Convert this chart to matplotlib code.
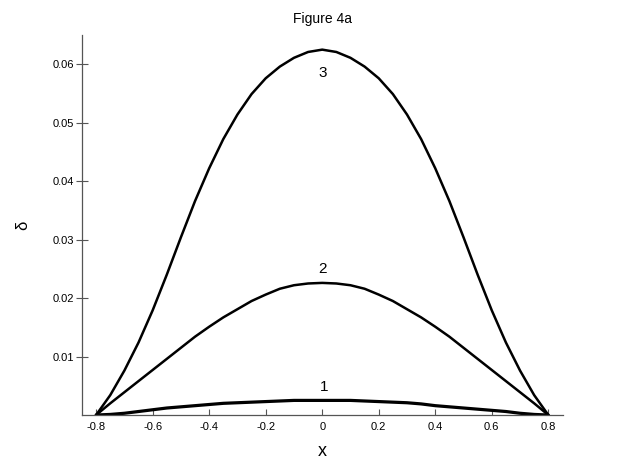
import matplotlib
import matplotlib.pyplot as plt

matplotlib.use("Agg")
plt.rcParams["font.family"] = ["Liberation Sans", "DejaVu Sans"]

# sampled off the reference curves
x_vals = [-0.80, -0.75, -0.70, -0.65, -0.60, -0.55, -0.50, -0.45, -0.40, -0.35, -0.30,
          -0.25, -0.20, -0.15, -0.10, -0.05, 0.00, 0.05, 0.10, 0.15, 0.20, 0.25,
          0.30, 0.35, 0.40, 0.45, 0.50, 0.55, 0.60, 0.65, 0.70, 0.75, 0.80]
delta_1 = [0.0, 0.0001, 0.0003, 0.0006, 0.0009, 0.0012, 0.0014, 0.0016, 0.0018, 0.0020, 0.0021,
           0.0022, 0.0023, 0.0024, 0.0025, 0.0025, 0.0025, 0.0025, 0.0025, 0.0024, 0.0023, 0.0022,
           0.0021, 0.0019, 0.0016, 0.0014, 0.0012, 0.0010, 0.0008, 0.0006, 0.0003, 0.0001, 0.0]
delta_2 = [0.0, 0.0020, 0.0039, 0.0058, 0.0077, 0.0096, 0.0115, 0.0134, 0.0151, 0.0167, 0.0181,
           0.0195, 0.0206, 0.0216, 0.0222, 0.0225, 0.0226, 0.0225, 0.0222, 0.0216, 0.0206, 0.0195,
           0.0181, 0.0167, 0.0151, 0.0134, 0.0115, 0.0096, 0.0077, 0.0058, 0.0039, 0.0020, 0.0]
delta_3 = [0.0, 0.0034, 0.0076, 0.0124, 0.0179, 0.0240, 0.0304, 0.0366, 0.0422, 0.0472, 0.0514,
           0.0549, 0.0576, 0.0596, 0.0611, 0.0621, 0.0625, 0.0621, 0.0611, 0.0596, 0.0576, 0.0549,
           0.0514, 0.0472, 0.0422, 0.0366, 0.0304, 0.0240, 0.0179, 0.0124, 0.0076, 0.0034, 0.0]
curve_labels = ["1", "2", "3"]
x_ticks = [-0.8, -0.6, -0.4, -0.2, 0.0, 0.2, 0.4, 0.6, 0.8]
x_tick_labels = ["-0.8", "-0.6", "-0.4", "-0.2", "0", "0.2", "0.4", "0.6", "0.8"]
y_ticks = [0.01, 0.02, 0.03, 0.04, 0.05, 0.06]

fig = plt.figure(figsize=(6.23, 4.67), dpi=100)
ax = fig.add_axes([0.1316, 0.1113, 0.7721, 0.8137])

for vals, lw in ((delta_1, 2.3), (delta_2, 1.8), (delta_3, 1.8)):
    ax.plot(x_vals, vals, color="black", lw=lw, solid_joinstyle="round", solid_capstyle="round")

# curve numbers sit just above / below the peaks
ax.text(0.005, 0.0048, curve_labels[0], ha="center", va="center", fontsize=11)
ax.text(0.0, 0.0250, curve_labels[1], ha="center", va="center", fontsize=11)
ax.text(0.0, 0.0585, curve_labels[2], ha="center", va="center", fontsize=11)

ax.set_xlim(-0.85, 0.852)
ax.set_ylim(0.0, 0.065)
ax.set_xticks(x_ticks)
ax.set_xticklabels(x_tick_labels)
ax.set_yticks(y_ticks)
ax.set_yticklabels([f"{v:.2f}" for v in y_ticks])

for side in ("top", "right"):
    ax.spines[side].set_visible(False)
for side in ("left", "bottom"):
    ax.spines[side].set_color("#555555")
    ax.spines[side].set_linewidth(0.9)

ax.tick_params(axis="x", direction="in", length=4, width=0.8, color="#555555", labelsize=8, pad=5)
ax.tick_params(axis="y", direction="inout", length=8, width=0.8, color="#555555", labelsize=8, pad=2)

ax.set_xlabel("x", fontsize=13, labelpad=8)
ax.set_ylabel("δ", fontsize=12, labelpad=16)
ax.set_title("Figure 4a", fontsize=10, pad=9)

fig.savefig("out.png", dpi=100)
plt.close(fig)
